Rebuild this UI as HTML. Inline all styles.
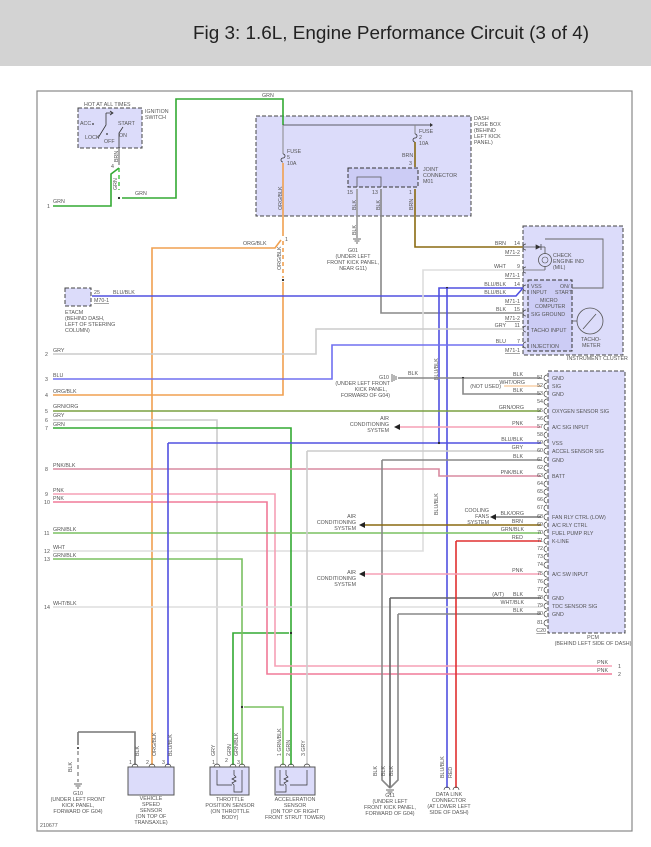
<!DOCTYPE html>
<html><head><meta charset="utf-8"><style>
html,body{margin:0;padding:0;background:#fff}
svg{display:block}
text{font-family:"Liberation Sans",sans-serif;fill:#555;font-size:5.3px}
.w{fill:none;stroke-width:1.6}
</style></head><body>
<svg width="651" height="847" viewBox="0 0 651 847" xmlns="http://www.w3.org/2000/svg">
<rect x="0" y="0" width="651" height="66" fill="#d3d3d3"/>
<text x="193" y="39" style="font-size:18.5px;fill:#222" textLength="396" lengthAdjust="spacingAndGlyphs">Fig 3: 1.6L, Engine Performance Circuit (3 of 4)</text>
<rect x="37" y="91" width="595" height="740" fill="none" stroke="#888" stroke-width="1.2"/>

<!-- boxes -->
<rect x="78" y="108" width="64" height="40" fill="#dcdcfa" stroke="#444" stroke-dasharray="4,2" stroke-width="1"/>
<rect x="256" y="116" width="215" height="100" fill="#dcdcfa" stroke="#444" stroke-dasharray="4,2" stroke-width="1"/>
<rect x="348" y="168" width="70" height="19" fill="#ccccf5" stroke="#333" stroke-dasharray="4,2" stroke-width="1"/>
<rect x="65" y="288" width="26" height="18" fill="#dcdcfa" stroke="#444" stroke-dasharray="4,2" stroke-width="1"/>
<rect x="523" y="226" width="100" height="129" fill="#dcdcfa" stroke="#444" stroke-dasharray="4,2" stroke-width="1"/>
<rect x="528" y="280" width="44" height="71" fill="#ccccf5" stroke="#333" stroke-dasharray="4,2" stroke-width="1"/>
<rect x="548" y="371" width="77" height="262" fill="#dcdcfa" stroke="#444" stroke-dasharray="4,2" stroke-width="1"/>
<rect x="128" y="767" width="46" height="28" fill="#dcdcfa" stroke="#555" stroke-width="1"/>
<rect x="210" y="767" width="39" height="28" fill="#dcdcfa" stroke="#555" stroke-width="1"/>
<rect x="275" y="767" width="40" height="28" fill="#dcdcfa" stroke="#555" stroke-width="1"/>

<!-- ignition switch -->
<text x="84" y="106">HOT AT ALL TIMES</text>
<text x="145" y="113">IGNITION</text><text x="145" y="119">SWITCH</text>
<path d="M106 113 V125 L98 138 M106 113 h7 M110 111 l3 2 -3 2" stroke="#333" fill="none" stroke-width="0.8"/>
<text x="80" y="125">ACC</text><circle cx="93" cy="124" r="0.9" fill="#333"/>
<text x="85" y="139">LOCK</text><text x="104" y="143">OFF</text><circle cx="107" cy="134" r="0.9" fill="#333"/>
<text x="118" y="125">START</text><text x="119" y="137">ON</text>
<path d="M119 148 V133 L123 127" stroke="#333" fill="none" stroke-width="0.8"/>
<path d="M119 148 V165" class="w" stroke="#999"/>
<text transform="translate(118,162) rotate(-90)">BRN</text>
<text x="111" y="168">4</text>
<path d="M119 168 v22" class="w" stroke="#5c5" stroke-dasharray="4,3"/>
<text transform="translate(117,190) rotate(-90)">GRN</text>
<circle cx="119" cy="198" r="1.1" fill="#222"/>
<path d="M53 206 H111 V174 L119 168" class="w" stroke="#3a3"/>
<text x="47" y="208">1</text><text x="53" y="203">GRN</text>
<path d="M122 198 H176 V99 H283 V125" class="w" stroke="#3a3"/>
<text x="135" y="195">GRN</text><text x="262" y="97">GRN</text>

<!-- fuse box -->
<text x="474" y="120">DASH</text><text x="474" y="126">FUSE BOX</text><text x="474" y="132">(BEHIND</text><text x="474" y="138">LEFT KICK</text><text x="474" y="144">PANEL)</text>
<path d="M283 125 H432" stroke="#333" stroke-width="0.8"/><path d="M430 123 l3 2 -3 2z" fill="#333"/>
<path d="M283 125 V154 M415 125 V134" stroke="#888" stroke-width="1"/>
<path d="M283 154 a2 2 0 0 1 0 4 a2 2 0 0 0 0 4 M415 134 a2 2 0 0 1 0 4 a2 2 0 0 0 0 4" stroke="#333" fill="none" stroke-width="0.8"/>
<text x="287" y="153">FUSE</text><text x="287" y="159">5</text><text x="287" y="165">10A</text>
<text x="419" y="133">FUSE</text><text x="419" y="139">2</text><text x="419" y="145">10A</text>
<path d="M415 142 V167" class="w" stroke="#8a6a10"/>
<text x="402" y="157">BRN</text><text x="409" y="165">3</text>
<text x="423" y="171">JOINT</text><text x="423" y="177">CONNECTOR</text><text x="423" y="183">M01</text>
<path d="M357 187 V177 H381 V187" stroke="#555" fill="none" stroke-width="0.8"/>
<text x="347" y="194">15</text><text x="372" y="194">13</text><text x="409" y="194">1</text>
<path d="M357 189 V238" class="w" stroke="#999"/>
<path d="M353 239 h8 M354.5 241 h5 M356 243 h2" stroke="#333" stroke-width="0.7"/>
<text transform="translate(356,210) rotate(-90)">BLK</text><text transform="translate(380,210) rotate(-90)">BLK</text><text transform="translate(413,210) rotate(-90)">BRN</text>
<text transform="translate(356,235) rotate(-90)">BLK</text>
<text x="353" y="252" text-anchor="middle">G01</text><text x="353" y="258" text-anchor="middle">(UNDER LEFT</text><text x="353" y="264" text-anchor="middle">FRONT KICK PANEL,</text><text x="353" y="270" text-anchor="middle">NEAR G11)</text>
<path d="M381 189 V313 H523" class="w" stroke="#888"/>
<path d="M415 189 V247 H523" class="w" stroke="#8a6a10"/>

<!-- ORG/BLK -->
<path d="M283 163 V236" class="w" stroke="#f0a050"/>
<text transform="translate(282,210) rotate(-90)">ORG/BLK</text>
<text x="285" y="241">1</text>
<path d="M283 241 V278" class="w" stroke="#f0a050" stroke-dasharray="4,3"/>
<text transform="translate(281,270) rotate(-90)">ORG/BLK</text>
<circle cx="283" cy="280" r="1.1" fill="#222"/>
<path d="M283 282 V395 H53" class="w" stroke="#f0a050"/>
<path d="M281 240 L275 248 H152 V765" class="w" stroke="#f0a050"/>
<text x="243" y="245">ORG/BLK</text>

<!-- ETACM -->
<text x="94" y="294">25</text><text x="94" y="302" style="text-decoration:underline">M70-1</text>
<text x="65" y="314">ETACM</text><text x="65" y="320">(BEHIND DASH,</text><text x="65" y="326">LEFT OF STEERING</text><text x="65" y="332">COLUMN)</text>
<path d="M92 296 H516 L523 288" class="w" stroke="#5050e0"/>
<text x="113" y="294">BLU/BLK</text>

<!-- cluster -->
<text x="567" y="360">INSTRUMENT CLUSTER</text>
<path d="M545 247 V254 M545 266 V270 M545 239 H603 V288 H572" stroke="#666" fill="none" stroke-width="0.9"/>
<path d="M523 247 H541" stroke="#555" stroke-width="0.8"/><path d="M536 245 l4 2 -4 2z M541 244 v6" fill="#333" stroke="#333" stroke-width="0.7"/>
<path d="M541 247 h4" stroke="#555" stroke-width="0.8"/>
<circle cx="545" cy="260" r="6.5" fill="none" stroke="#555" stroke-width="0.8"/>
<circle cx="545" cy="260" r="3" fill="none" stroke="#555" stroke-width="0.6"/>
<text x="553" y="257">CHECK</text><text x="553" y="263">ENGINE IND</text><text x="553" y="269">(MIL)</text>
<path d="M523 270 H545" stroke="#666" stroke-width="0.8"/>
<circle cx="590" cy="321" r="13" fill="none" stroke="#555" stroke-width="0.8"/>
<path d="M583 329 L596 314" stroke="#555" stroke-width="0.8"/><path d="M572 321 H577" stroke="#555" stroke-width="0.8"/>
<text x="581" y="341">TACHO-</text><text x="582" y="347">METER</text>
<text x="531" y="288">VSS</text><text x="531" y="294">INPUT</text><text x="560" y="288">ON/</text><text x="555" y="294">START</text>
<text x="540" y="302">MICRO</text><text x="535" y="308">COMPUTER</text>
<text x="531" y="316">SIG GROUND</text><text x="531" y="332">TACHO INPUT</text><text x="531" y="348">INJECTION</text>
<g>
<text x="520" y="245" text-anchor="end">14</text><text x="520" y="254" text-anchor="end" style="text-decoration:underline">M71-2</text><text x="506" y="245" text-anchor="end">BRN</text>
<text x="520" y="268" text-anchor="end">9</text><text x="520" y="277" text-anchor="end" style="text-decoration:underline">M71-1</text><text x="506" y="268" text-anchor="end">WHT</text>
<text x="520" y="286" text-anchor="end">14</text><text x="506" y="286" text-anchor="end">BLU/BLK</text><text x="506" y="294" text-anchor="end">BLU/BLK</text>
<text x="520" y="303" text-anchor="end" style="text-decoration:underline">M71-1</text>
<text x="520" y="311" text-anchor="end">15</text><text x="520" y="320" text-anchor="end" style="text-decoration:underline">M71-2</text><text x="506" y="311" text-anchor="end">BLK</text>
<text x="520" y="327" text-anchor="end">11</text><text x="506" y="327" text-anchor="end">GRY</text>
<text x="520" y="343" text-anchor="end">7</text><text x="520" y="352" text-anchor="end" style="text-decoration:underline">M71-1</text><text x="506" y="343" text-anchor="end">BLU</text>
</g>
<g stroke="#444" fill="none" stroke-width="0.7">
<path d="M526 244 a3 3 0 0 0 0 6 M526 267 a3 3 0 0 0 0 6 M526 285 a3 3 0 0 0 0 6 M526 310 a3 3 0 0 0 0 6 M526 326 a3 3 0 0 0 0 6 M526 342 a3 3 0 0 0 0 6"/>
</g>
<path d="M523 270 H423 V551 H53" class="w" stroke="#ddd"/>
<path d="M523 288 H439 V443" class="w" stroke="#5050e0"/>
<circle cx="447" cy="288" r="1.1" fill="#222"/>
<path d="M447 288 V788" class="w" stroke="#5050e0" stroke-width="1.2"/>
<text transform="translate(438,380) rotate(-90)">BLU/BLK</text>
<text transform="translate(438,515) rotate(-90)">BLU/BLK</text>
<path d="M523 329 H316 V354 H53" class="w" stroke="#ccc"/>
<path d="M523 345 H332 V379 H53" class="w" stroke="#7070f0" stroke-width="2"/>

<!-- left numbers -->
<g>
<text x="45" y="356">2</text><text x="53" y="352">GRY</text>
<text x="45" y="381">3</text><text x="53" y="377">BLU</text>
<text x="45" y="397">4</text><text x="53" y="393">ORG/BLK</text>
<text x="45" y="413">5</text><text x="53" y="408">GRN/ORG</text>
<text x="45" y="422">6</text><text x="53" y="417">GRY</text>
<text x="45" y="430">7</text><text x="53" y="426">GRN</text>
<text x="45" y="471">8</text><text x="53" y="467">PNK/BLK</text>
<text x="45" y="496">9</text><text x="53" y="492">PNK</text>
<text x="44" y="504">10</text><text x="53" y="500">PNK</text>
<text x="44" y="535">11</text><text x="53" y="531">GRN/BLK</text>
<text x="44" y="553">12</text><text x="53" y="549">WHT</text>
<text x="44" y="561">13</text><text x="53" y="557">GRN/BLK</text>
<text x="44" y="609">14</text><text x="53" y="605">WHT/BLK</text>
</g>

<!-- left wires -->
<path d="M53 411 H541" class="w" stroke="#7aa040"/>
<path d="M53 420 H217 V765" class="w" stroke="#ccc"/>
<path d="M53 428 H291 V765" class="w" stroke="#3a3"/>
<circle cx="291" cy="633" r="1.1" fill="#222"/>
<path d="M289 633 H233 V765" class="w" stroke="#3a3"/>
<path d="M53 469 H439 V476 H541" class="w" stroke="#d98aa0"/>
<path d="M53 494 H275 V666 H612" class="w" stroke="#f5a0b5"/>
<path d="M53 502 H267 V674 H612" class="w" stroke="#f07a98"/>
<path d="M53 533 H541" class="w" stroke="#7ac060"/>
<path d="M53 559 H242 V765" class="w" stroke="#7ac060"/>
<circle cx="242" cy="707" r="1.1" fill="#222"/>
<path d="M244 707 H283 V765" class="w" stroke="#7ac060"/>
<path d="M53 607 H541" class="w" stroke="#ddd"/>
<path d="M168 443 H541" class="w" stroke="#5050e0"/>
<circle cx="439" cy="443" r="1.1" fill="#222"/>
<path d="M168 443 V765" class="w" stroke="#5050e0"/>
<path d="M307 451 H541 M307 451 V765" class="w" stroke="#ccc"/>
<text x="618" y="668">1</text><text x="618" y="676">2</text>
<text x="608" y="664" text-anchor="end">PNK</text><text x="608" y="672" text-anchor="end">PNK</text>

<!-- PCM side wires -->
<path d="M398 378 H541" class="w" stroke="#888"/>
<path d="M392 374 v8 M394 375 v6 M396 376 v4" stroke="#333" stroke-width="0.7"/>
<circle cx="463" cy="378" r="1.1" fill="#222"/>
<path d="M463 378 V394 H541" class="w" stroke="#888"/>
<text x="408" y="375">BLK</text>
<text x="389" y="379" text-anchor="end">G10</text><text x="390" y="385" text-anchor="end">(UNDER LEFT FRONT</text><text x="387" y="391" text-anchor="end">KICK PANEL,</text><text x="390" y="397" text-anchor="end">FORWARD OF G04)</text>
<text x="501" y="388" text-anchor="end">(NOT USED)</text>
<path d="M504 386 H541" stroke="#f0a050" stroke-width="0.8"/>
<path d="M397 427 H541" class="w" stroke="#f5a0b5"/><path d="M394 427 l6 -3 v6z" fill="#222"/>
<text x="389" y="420" text-anchor="end">AIR</text><text x="389" y="426" text-anchor="end">CONDITIONING</text><text x="389" y="432" text-anchor="end">SYSTEM</text>
<path d="M382 460 H541 M382 460 V780 L390 788" class="w" stroke="#888"/>
<path d="M390 598 H541 M390 598 V788" class="w" stroke="#666" stroke-width="1.2"/>
<path d="M398 614 H541 M398 614 V780 L390 788" class="w" stroke="#888"/>
<path d="M386 790 h8 M387.5 792 h5 M389 794 h2" stroke="#333" stroke-width="0.7"/>
<path d="M493 517 H541" class="w" stroke="#777" stroke-width="1.2"/><path d="M490 517 l6 -3 v6z" fill="#222"/>
<text x="489" y="512" text-anchor="end">COOLING</text><text x="489" y="518" text-anchor="end">FANS</text><text x="489" y="524" text-anchor="end">SYSTEM</text>
<path d="M362 525 H541" class="w" stroke="#8a6a10"/><path d="M359 525 l6 -3 v6z" fill="#222"/>
<text x="356" y="518" text-anchor="end">AIR</text><text x="356" y="524" text-anchor="end">CONDITIONING</text><text x="356" y="530" text-anchor="end">SYSTEM</text>
<path d="M456 541 H541 M456 541 V788" class="w" stroke="#e03030" stroke-width="1.4"/>
<path d="M362 574 H541" class="w" stroke="#f5a0b5"/><path d="M359 574 l6 -3 v6z" fill="#222"/>
<text x="356" y="574" text-anchor="end">AIR</text><text x="356" y="580" text-anchor="end">CONDITIONING</text><text x="356" y="586" text-anchor="end">SYSTEM</text>
<text x="504" y="596" text-anchor="end">(A/T)</text>

<!-- PCM pins labels -->
<g text-anchor="end">
<text x="523" y="376">BLK</text><text x="525" y="384">WHT/ORG</text><text x="523" y="392">BLK</text>
<text x="524" y="409">GRN/ORG</text><text x="523" y="425">PNK</text><text x="523" y="441">BLU/BLK</text><text x="523" y="449">GRY</text><text x="523" y="458">BLK</text>
<text x="523" y="474">PNK/BLK</text><text x="524" y="515">BLK/ORG</text><text x="523" y="523">BRN</text><text x="524" y="531">GRN/BLK</text><text x="523" y="539">RED</text>
<text x="523" y="572">PNK</text><text x="523" y="596">BLK</text><text x="524" y="604">WHT/BLK</text><text x="523" y="612">BLK</text>
</g>
<g text-anchor="end" style="font-size:4.8px">
<text x="543" y="379">51</text><text x="543" y="387">52</text><text x="543" y="395">53</text><text x="543" y="403">54</text><text x="543" y="412">55</text><text x="543" y="420">56</text><text x="543" y="428">57</text><text x="543" y="436">58</text><text x="543" y="444">59</text><text x="543" y="452">60</text><text x="543" y="461">61</text><text x="543" y="469">62</text><text x="543" y="477">63</text><text x="543" y="485">64</text><text x="543" y="493">65</text><text x="543" y="501">66</text><text x="543" y="509">67</text><text x="543" y="518">68</text><text x="543" y="526">69</text><text x="543" y="534">70</text><text x="543" y="542">71</text><text x="543" y="550">72</text><text x="543" y="558">73</text><text x="543" y="566">74</text><text x="543" y="575">75</text><text x="543" y="583">76</text><text x="543" y="591">77</text><text x="543" y="599">78</text><text x="543" y="607">79</text><text x="543" y="615">80</text><text x="543" y="624">81</text>
<text x="546" y="632" style="text-decoration:underline">C20</text>
</g>
<g stroke="#444" fill="none" stroke-width="0.7">
<path d="M547 375 a3 3 0 0 0 0 6 M547 383 a3 3 0 0 0 0 6 M547 391 a3 3 0 0 0 0 6 M547 399 a3 3 0 0 0 0 6 M547 408 a3 3 0 0 0 0 6 M547 416 a3 3 0 0 0 0 6 M547 424 a3 3 0 0 0 0 6 M547 432 a3 3 0 0 0 0 6 M547 440 a3 3 0 0 0 0 6 M547 448 a3 3 0 0 0 0 6 M547 457 a3 3 0 0 0 0 6 M547 465 a3 3 0 0 0 0 6 M547 473 a3 3 0 0 0 0 6 M547 481 a3 3 0 0 0 0 6 M547 489 a3 3 0 0 0 0 6 M547 497 a3 3 0 0 0 0 6 M547 505 a3 3 0 0 0 0 6 M547 514 a3 3 0 0 0 0 6 M547 522 a3 3 0 0 0 0 6 M547 530 a3 3 0 0 0 0 6 M547 538 a3 3 0 0 0 0 6 M547 546 a3 3 0 0 0 0 6 M547 554 a3 3 0 0 0 0 6 M547 562 a3 3 0 0 0 0 6 M547 571 a3 3 0 0 0 0 6 M547 579 a3 3 0 0 0 0 6 M547 587 a3 3 0 0 0 0 6 M547 595 a3 3 0 0 0 0 6 M547 603 a3 3 0 0 0 0 6 M547 611 a3 3 0 0 0 0 6 M547 620 a3 3 0 0 0 0 6"/>
</g>
<g>
<text x="552" y="380">GND</text><text x="552" y="388">SIG</text><text x="552" y="396">GND</text><text x="552" y="413">OXYGEN SENSOR SIG</text><text x="552" y="429">A/C SIG INPUT</text>
<text x="552" y="445">VSS</text><text x="552" y="453">ACCEL SENSOR SIG</text><text x="552" y="462">GND</text><text x="552" y="478">BATT</text>
<text x="552" y="519">FAN RLY CTRL (LOW)</text><text x="552" y="527">A/C RLY CTRL</text><text x="552" y="535">FUEL PUMP RLY</text><text x="552" y="543">K-LINE</text>
<text x="552" y="576">A/C SW INPUT</text><text x="552" y="600">GND</text><text x="552" y="608">TDC SENSOR SIG</text><text x="552" y="616">GND</text>
<text x="593" y="639" text-anchor="middle">PCM</text><text x="593" y="645" text-anchor="middle">(BEHIND LEFT SIDE OF DASH)</text>
</g>

<!-- bottom components -->
<path d="M78 732 H135 V765" class="w" stroke="#777" stroke-width="1.2"/>
<path d="M78 732 V745" class="w" stroke="#777" stroke-width="1.2"/>
<circle cx="78" cy="748" r="1" fill="#222"/>
<path d="M78 751 V782" stroke="#777" stroke-width="1.2" stroke-dasharray="4,3"/>
<path d="M74 784 h8 M75.5 786 h5 M77 788 h2" stroke="#333" stroke-width="0.7"/>
<text transform="translate(72,772) rotate(-90)">BLK</text>
<g text-anchor="middle">
<text x="78" y="795">G10</text><text x="78" y="801">(UNDER LEFT FRONT</text><text x="78" y="807">KICK PANEL,</text><text x="78" y="813">FORWARD OF G04)</text>
<text x="151" y="800">VEHICLE</text><text x="151" y="806">SPEED</text><text x="151" y="812">SENSOR</text><text x="151" y="818">(ON TOP OF</text><text x="151" y="824">TRANSAXLE)</text>
<text x="230" y="801">THROTTLE</text><text x="230" y="807">POSITION SENSOR</text><text x="230" y="813">(ON THROTTLE</text><text x="230" y="819">BODY)</text>
<text x="295" y="801">ACCELERATION</text><text x="295" y="807">SENSOR</text><text x="295" y="813">(ON TOP OF RIGHT</text><text x="295" y="819">FRONT STRUT TOWER)</text>
<text x="390" y="797">G11</text><text x="390" y="803">(UNDER LEFT</text><text x="390" y="809">FRONT KICK PANEL,</text><text x="390" y="815">FORWARD OF G04)</text>
<text x="449" y="796">DATA LINK</text><text x="449" y="802">CONNECTOR</text><text x="449" y="808">(AT LOWER LEFT</text><text x="449" y="814">SIDE OF DASH)</text>
</g>
<text x="40" y="827">210677</text>
<text transform="translate(139,756) rotate(-90)">BLK</text><text transform="translate(156,756) rotate(-90)">ORG/BLK</text><text transform="translate(172,756) rotate(-90)">BLU/BLK</text>
<text x="129" y="764">1</text><text x="146" y="764">2</text><text x="162" y="764">3</text>
<text transform="translate(215,756) rotate(-90)">GRY</text><text transform="translate(231,756) rotate(-90)">GRN</text><text transform="translate(238,756) rotate(-90)">GRN/BLK</text>
<text x="212" y="764">1</text><text x="225" y="762">2</text><text x="237" y="764">3</text>
<text transform="translate(281,756) rotate(-90)">1 GRN/BLK</text><text transform="translate(290,756) rotate(-90)">2 GRN</text><text transform="translate(305,756) rotate(-90)">3 GRY</text>
<text transform="translate(377,776) rotate(-90)">BLK</text><text transform="translate(385,776) rotate(-90)">BLK</text><text transform="translate(393,776) rotate(-90)">BLK</text>
<text transform="translate(444,778) rotate(-90)">BLU/BLK</text><text transform="translate(452,778) rotate(-90)">RED</text>
<g stroke="#444" fill="none" stroke-width="0.7">
<path d="M132 767 a3 3 0 0 1 6 0 M149 767 a3 3 0 0 1 6 0 M165 767 a3 3 0 0 1 6 0 M214 767 a3 3 0 0 1 6 0 M230 767 a3 3 0 0 1 6 0 M239 767 a3 3 0 0 1 6 0 M280 767 a3 3 0 0 1 6 0 M288 767 a3 3 0 0 1 6 0 M304 767 a3 3 0 0 1 6 0 M444 790 a3 3 0 0 1 6 0 M453 790 a3 3 0 0 1 6 0"/>
<path d="M217 770 V785 H232 M234 770 V775 l2 2 -4 2 4 2 -4 2 2 2 V792 H242 V770 M286 770 V775 l2 2 -4 2 4 2 -4 2 2 2 V792 H276 M280 770 V785 H284 M307 770 V785 H290" stroke="#333"/>
</g>
</svg>
</body></html>
